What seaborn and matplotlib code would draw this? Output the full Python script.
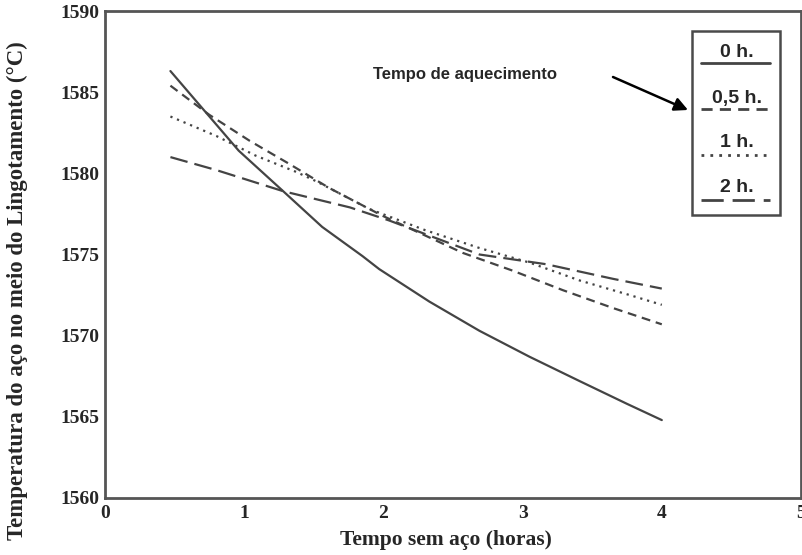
import numpy as np
import pandas as pd
import matplotlib
matplotlib.use("Agg")
import matplotlib.pyplot as plt
import seaborn as sns
from matplotlib.lines import Line2D
from matplotlib.patches import Rectangle

# ---- data ----
series_names = ["0 h.", "0,5 h.", "1 h.", "2 h."]

x_0h = [0.47, 0.72, 0.96, 1.28, 1.56, 1.85, 1.97, 2.33, 2.69, 3.05, 3.41, 3.75, 4.00]
t_0h = [1586.3, 1583.8, 1581.4, 1578.9, 1576.7, 1574.9, 1574.1, 1572.1, 1570.3, 1568.7, 1567.2, 1565.8, 1564.8]

x_05h = [0.47, 0.75, 1.04, 1.32, 1.61, 1.99, 2.57, 2.93, 3.29, 3.65, 4.00]
t_05h = [1585.4, 1583.6, 1582.0, 1580.6, 1579.1, 1577.4, 1575.1, 1574.0, 1572.8, 1571.7, 1570.7]

x_1h = [0.47, 0.80, 1.08, 1.37, 1.52, 1.90, 2.30, 2.69, 3.05, 3.41, 3.77, 4.00]
t_1h = [1583.5, 1582.3, 1581.1, 1580.1, 1579.5, 1577.8, 1576.5, 1575.4, 1574.5, 1573.4, 1572.5, 1571.9]

x_2h = [0.47, 0.80, 1.28, 1.76, 2.04, 2.69, 3.17, 3.65, 4.00]
t_2h = [1581.0, 1580.2, 1578.9, 1577.9, 1577.1, 1575.0, 1574.4, 1573.5, 1572.9]

x_ticks = [0, 1, 2, 3, 4, 5]
y_ticks = [1560, 1565, 1570, 1575, 1580, 1585, 1590]

xlabel = "Tempo sem aço (horas)"
ylabel = "Temperatura do aço no meio do Lingotamento (°C)"
annot_text = "Tempo de aquecimento"

# ---- build long table ----
frames = []
for name, xs, ts in zip(series_names, [x_0h, x_05h, x_1h, x_2h], [t_0h, t_05h, t_1h, t_2h]):
    frames.append(pd.DataFrame({"x": xs, "t": ts, "serie": name}))
df = pd.concat(frames, ignore_index=True)

sns.set_style("white")
plt.rcParams["font.family"] = ["Liberation Serif", "DejaVu Serif"]

line_color = "#444444"
dash_map = {"0 h.": "", "0,5 h.": (4, 2.6), "1 h.": (1, 2.2), "2 h.": (8, 3.2)}
palette = {n: line_color for n in series_names}

fig = plt.figure(figsize=(8.02, 5.55), dpi=100)
ax = fig.add_axes([105 / 802, 1 - 498 / 555, 696 / 802, 487 / 555])

sns.lineplot(data=df, x="x", y="t", hue="serie", style="serie", palette=palette,
             dashes=dash_map, linewidth=1.6, sort=False, estimator=None,
             legend=False, ax=ax)

ax.set_xlim(0, 5)
ax.set_ylim(1560, 1590)
ax.set_xticks(x_ticks)
ax.set_yticks(y_ticks)
ax.set_xticks(np.arange(0.5, 5, 1.0), minor=True)
ax.set_yticks(np.arange(1562.5, 1590, 5.0), minor=True)
ax.set_xticklabels([str(v) for v in x_ticks], fontsize=14, fontweight="bold")
ax.set_yticklabels([str(v) for v in y_ticks], fontsize=14, fontweight="bold")
ax.tick_params(axis="x", which="major", direction="in", length=7, width=1.3, color="#555555", pad=5)
ax.tick_params(axis="y", which="major", direction="in", length=7, width=1.8, color="#555555", pad=4)
ax.tick_params(which="minor", direction="in", length=3, width=1.3, color="#666666")
ax.set_xlabel("")
ax.set_ylabel("")
for s in ax.spines.values():
    s.set_color("#555555")
    s.set_linewidth(2.0)
    s.set_visible(True)

fig.text(446 / 802, 1 - 540 / 555, xlabel, ha="center", va="center",
         fontsize=15.5, fontweight="bold")
fig.text(17 / 802, 1 - 291 / 555, ylabel, ha="center", va="center", rotation=90,
         fontsize=16.5, fontweight="bold")

# ---- custom legend box (labels above line samples) ----
sans = ["Liberation Sans", "DejaVu Sans"]
ax.add_patch(Rectangle((0.844, 0.581), 0.126, 0.378, transform=ax.transAxes,
                       fill=False, edgecolor="#4a4a4a", linewidth=1.8, zorder=5))
text_y = [0.914, 0.821, 0.729, 0.637]
line_y = [0.893, 0.799, 0.704, 0.612]
for name, ty, ly in zip(series_names, text_y, line_y):
    ax.text(0.908, ty, name, transform=ax.transAxes, ha="center", va="center",
            fontsize=14, fontweight="bold", family=sans, zorder=6)
    d = dash_map[name]
    ln = Line2D([0.857, 0.955], [ly, ly], transform=ax.transAxes, color=line_color,
                linewidth=2.0, zorder=6)
    if d:
        ln.set_dashes(d)
    ax.add_line(ln)

# ---- annotation with arrow ----
ax.text((373 - 105) / 696, (498 - 75) / 487, annot_text, transform=ax.transAxes,
        ha="left", va="center", fontsize=12, fontweight="bold", family=sans)
ax.annotate("", xy=((688 - 105) / 696, (498 - 110) / 487), xycoords="axes fraction",
            xytext=((613 - 105) / 696, (498 - 77) / 487), textcoords="axes fraction",
            arrowprops=dict(arrowstyle="-|>", color="black", lw=1.8,
                            mutation_scale=20, shrinkA=0, shrinkB=0))

fig.savefig("out.png", dpi=100, facecolor="white")
